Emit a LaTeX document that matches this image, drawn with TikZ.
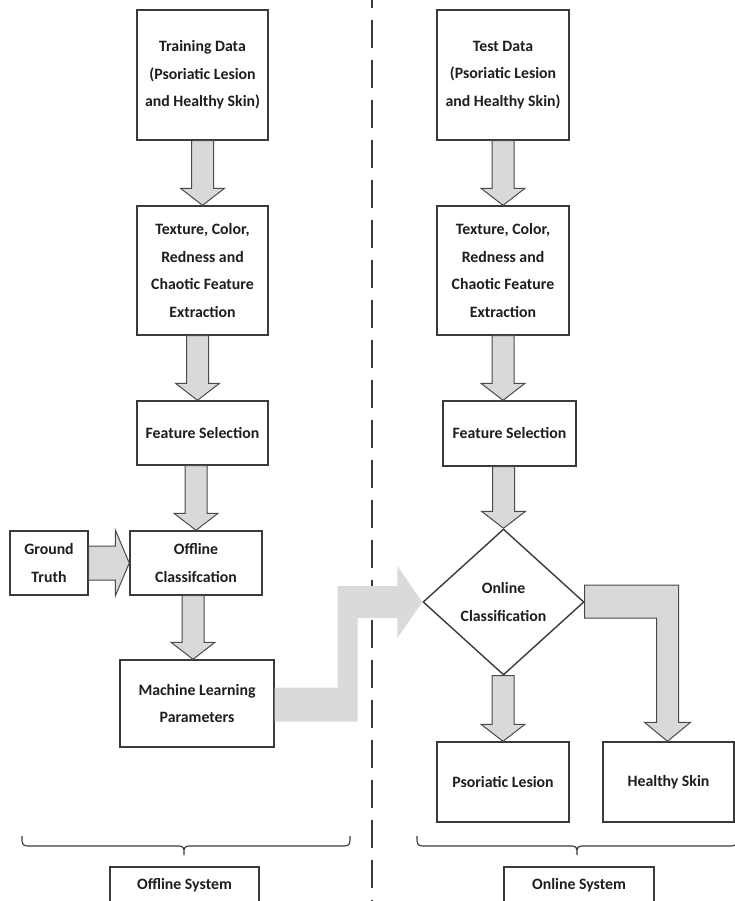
\documentclass[tikz,border=0pt]{standalone}
\usepackage{fontspec}
\setmainfont{Carlito}
\usetikzlibrary{shapes.geometric,calc}
\definecolor{linec}{HTML}{3A3A3A}
\definecolor{arrowfill}{HTML}{D9D9D9}
\definecolor{arrowline}{HTML}{4A4A4A}
\definecolor{bigfill}{HTML}{DADADA}
\definecolor{txt}{HTML}{1E1E1E}
\tikzset{
  box/.style={draw=linec, line width=1.4pt, fill=white, align=center, inner sep=0pt, text=txt,
    font=\fontsize{15.8}{27.5}\selectfont\bfseries},
  blk/.style={fill=arrowfill, draw=arrowline, line width=1pt, line join=miter},
  bigblk/.style={fill=bigfill, draw=none},
  sep/.style={draw=linec, line width=1.3pt, dash pattern=on 28pt off 12pt},
  bracec/.style={draw=linec, line width=1.2pt}
}
\newcommand\blkdown[3][0pt]{%
  \draw[blk] let \p1=(#2.south), \p2=(#3.north) in
    (\x2-11pt+#1,\y1) -- (\x2+11pt+#1,\y1) -- (\x2+11pt+#1,\y2+17pt) -- (\x2+22pt+#1,\y2+17pt)
    -- (\x2+#1,\y2) -- (\x2-22pt+#1,\y2+17pt) -- (\x2-11pt+#1,\y2+17pt) -- cycle;}
\begin{document}
\begin{tikzpicture}[x=1pt,y=-1pt]
\useasboundingbox (0,0) rectangle (735,901);
\clip (0,0) rectangle (735,901);
% separator
\coordinate (septop) at (372,-20);
\coordinate (sepbot) at (372,910);
\draw[sep] (septop) -- (sepbot);
% left column
\node[box, minimum width=131pt, minimum height=130pt] (train) at (202.5,75) {Training Data\\(Psoriatic Lesion\\and Healthy Skin)};
\node[box, minimum width=131pt, minimum height=129pt] (texL) at (202.5,270.5) {Texture, Color,\\Redness and\\Chaotic Feature\\Extraction};
\node[box, minimum width=131pt, minimum height=64pt] (fsL) at (202.5,433) {Feature Selection};
\node[box, minimum width=78pt, minimum height=64pt] (gt) at (49,563) {Ground\\Truth};
\node[box, minimum width=132pt, minimum height=64pt] (off) at (196,563) {Offline\\Classifcation};
\node[box, minimum width=154pt, minimum height=87pt] (ml) at (197,703.5) {Machine Learning\\Parameters};
% right column
\node[box, minimum width=132pt, minimum height=130pt] (test) at (503,75) {Test Data\\(Psoriatic Lesion\\and Healthy Skin)};
\node[box, minimum width=132pt, minimum height=129pt] (texR) at (503,270.5) {Texture, Color,\\Redness and\\Chaotic Feature\\Extraction};
\node[box, minimum width=133pt, minimum height=65pt] (fsR) at (509.5,433.5) {Feature Selection};
\node[box, shape=diamond, aspect=1.1, minimum width=161pt, minimum height=146pt] (dia) at (503.5,602) {Online\\Classification};
\node[box, minimum width=132pt, minimum height=80pt] (pso) at (503,782) {Psoriatic Lesion};
\node[box, minimum width=131pt, minimum height=80pt] (hs) at (668.5,782) {Healthy Skin};
% system labels
\node[box, minimum width=149pt, minimum height=36pt] (offsys) at (184.5,885) {Offline System};
\node[box, minimum width=150pt, minimum height=36pt] (onsys) at (579,885) {Online System};
% braces
\draw[bracec] (22,836) .. controls (22,846) .. (32,846) -- (175,846) .. controls (184,846) .. (184,855)
  .. controls (184,846) .. (193,846) -- (340,846) .. controls (350,846) .. (350,836);
\draw[bracec] (417,836) .. controls (417,846) .. (427,846) -- (568,846) .. controls (577,846) .. (577,855)
  .. controls (577,846) .. (586,846) -- (727,846) .. controls (737,846) .. (737,836);
% vertical block arrows
\blkdown{train}{texL}
\blkdown[-5pt]{texL}{fsL}
\blkdown{fsL}{off}
\blkdown[-4pt]{off}{ml}
\blkdown{test}{texR}
\blkdown[-6.5pt]{texR}{fsR}
\blkdown{fsR}{dia}
\blkdown{dia}{pso}
% ground truth arrow
\draw[blk] let \p1=(gt.east), \p2=(off.west) in
  (\x1,\y1+17pt) -- (\x2-14pt,\y1+17pt) -- (\x2-14pt,\y1+33pt) -- (\x2,\y1)
  -- (\x2-14pt,\y1-33pt) -- (\x2-14pt,\y1-17pt) -- (\x1,\y1-17pt) -- cycle;
% big arrow from ML parameters to online classification
\fill[bigblk] let \p1=(ml.east), \p2=(dia.west) in
  (\x1,\y1-18pt) -- (\x1+83pt,\y1-18pt) -- (\x1+83pt,\y2-16pt) -- (\x2-25pt,\y2-16pt)
  -- (\x2-25pt,\y2-36pt) -- (\x2,\y2) -- (\x2-25pt,\y2+36pt) -- (\x2-25pt,\y2+16pt)
  -- (\x1+63pt,\y2+16pt) -- (\x1+63pt,\y1+16pt) -- (\x1,\y1+16pt) -- cycle;
% L arrow to healthy skin
\draw[blk] let \p1=(dia.east), \p2=(hs.north) in
  (\x1,\y1+17pt) -- (\x2+10pt,\y1+17pt) -- (\x2+10pt,\y2+19pt) -- (\x2+22pt,\y2+19pt)
  -- (\x2-1pt,\y2) -- (\x2-24pt,\y2+19pt) -- (\x2-12pt,\y2+19pt) -- (\x2-12pt,\y1-16pt)
  -- (\x1,\y1-16pt) -- cycle;
\end{tikzpicture}
\end{document}
